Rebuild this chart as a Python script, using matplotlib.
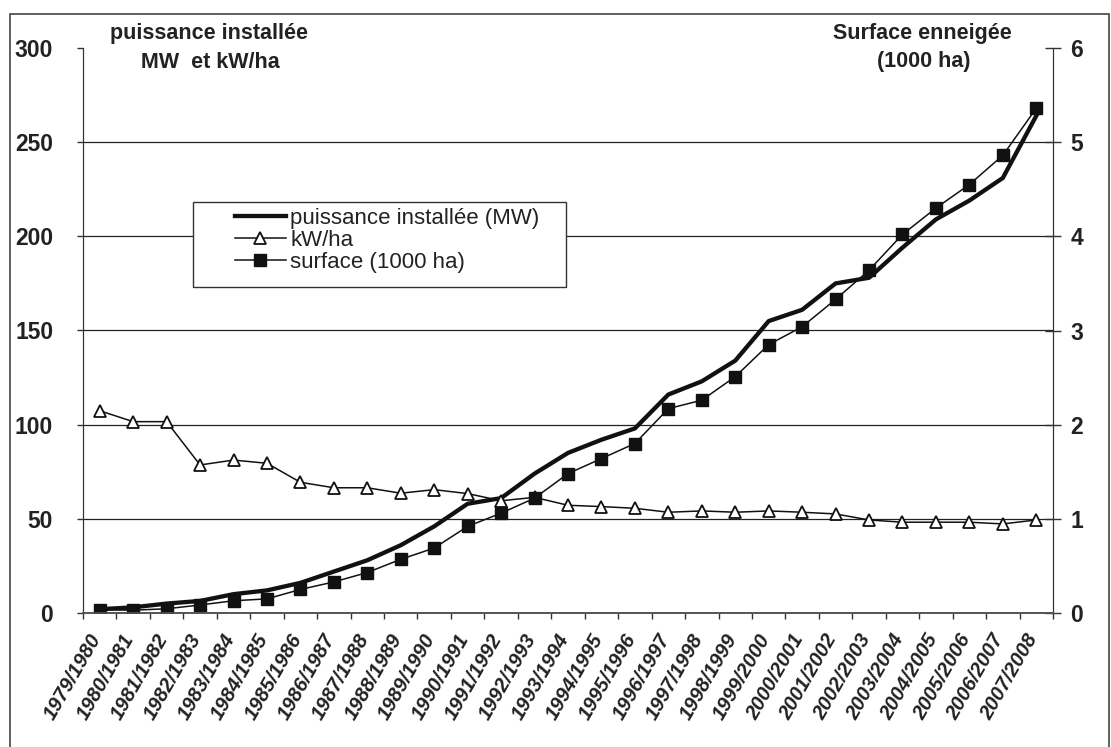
import numpy as np
import matplotlib
matplotlib.use("Agg")
import matplotlib.pyplot as plt
import matplotlib.transforms as mtransforms
from matplotlib.patches import Rectangle

plt.rcParams['font.family'] = ['Liberation Sans', 'DejaVu Sans']

years = ["1979/1980", "1980/1981", "1981/1982", "1982/1983", "1983/1984",
         "1984/1985", "1985/1986", "1986/1987", "1987/1988", "1988/1989",
         "1989/1990", "1990/1991", "1991/1992", "1992/1993", "1993/1994",
         "1994/1995", "1995/1996", "1996/1997", "1997/1998", "1998/1999",
         "1999/2000", "2000/2001", "2001/2002", "2002/2003", "2003/2004",
         "2004/2005", "2005/2006", "2006/2007", "2007/2008"]

# puissance installee (MW), left axis
puissance = [2, 3, 5, 6.4, 10, 12, 16, 22, 28, 36, 46, 58, 61, 74, 85, 92, 98,
             116, 123, 134, 155, 161, 175, 178, 194, 209, 219, 231, 264]
# kW/ha, left axis
kw_ha = [107.4, 101.6, 101.6, 78.6, 81.2, 79.5, 69.4, 66.5, 66.5, 63.6, 65.5,
         63.4, 59.6, 61.4, 57.2, 56.5, 55.6, 53.5, 54.2, 53.5, 54.2, 53.5, 52.6,
         49.4, 48.2, 48.2, 48.2, 47.3, 49.4]
# surface enneigee (1000 ha), right axis
surface = [0.035, 0.03, 0.045, 0.085, 0.13, 0.15, 0.25, 0.33, 0.43, 0.57, 0.69,
           0.92, 1.06, 1.22, 1.48, 1.64, 1.80, 2.17, 2.26, 2.51, 2.85, 3.04,
           3.33, 3.64, 4.02, 4.30, 4.55, 4.86, 5.36]

W, H = 1111, 747
fig = plt.figure(figsize=(W / 100, H / 100), dpi=100)
fig.patch.set_facecolor('white')

# outer frame (bottom edge falls off the picture)
fig.add_artist(Rectangle((10 / W, -3 / H), 1099 / W, 736 / H, transform=fig.transFigure,
                         fill=False, edgecolor='#444444', linewidth=1.2))

ax = fig.add_axes([83 / W, 134 / H, 970 / W, 565 / H])
ax2 = ax.twinx()

x = np.arange(len(years))
ax.set_xlim(-0.5, len(years) - 0.5)
ax.set_ylim(0, 300)
ax2.set_ylim(0, 6)

ax.set_yticks(range(0, 301, 50))
ax2.set_yticks(range(0, 7))
ax.grid(axis='y', color='#222222', linewidth=0.9)
ax.get_ygridlines()[-1].set_visible(False)
ax.set_axisbelow(True)

l1, = ax.plot(x, puissance, color='#111111', linewidth=3.1, label='puissance installée (MW)')
l2, = ax.plot(x, kw_ha, color='#111111', linewidth=1.1, marker='^', markersize=9,
              markerfacecolor='white', markeredgecolor='#111111', markeredgewidth=1.3,
              label='kW/ha')
l3, = ax2.plot(x, surface, color='#111111', linewidth=1.1, marker='s', markersize=8,
               markerfacecolor='#111111', markeredgecolor='#111111', label='surface (1000 ha)')

for a in (ax, ax2):
    a.spines['top'].set_visible(False)
    a.spines['left'].set_color('#333333')
    a.spines['right'].set_color('#333333')
    a.spines['bottom'].set_color('#555555')
    a.spines['bottom'].set_linewidth(1.2)

ax.tick_params(axis='y', direction='out', length=4.5, width=1, color='#333333',
               pad=17, labelsize=16.5)
ax2.tick_params(axis='y', direction='inout', length=11, width=1, color='#333333',
                pad=7, labelsize=16.5)
for t in ax.get_yticklabels() + ax2.get_yticklabels():
    t.set_fontweight('bold')
    t.set_color('#222222')

ax.set_xticks(x)
ax.set_xticks(np.arange(-0.5, len(years), 1), minor=True)
ax.tick_params(axis='x', which='major', length=0, pad=16)
ax.tick_params(axis='x', which='minor', direction='out', length=4.5, width=1, color='#333333')
ax.set_xticklabels(years, rotation=60, ha='right', va='center', rotation_mode='anchor',
                   fontsize=14.5, fontweight='bold', fontstyle='italic', color='#222222')
shift = mtransforms.ScaledTranslation(-3 / 100, 0, fig.dpi_scale_trans)
for t in ax.get_xticklabels():
    t.set_transform(t.get_transform() + shift)

fig.text(209 / W, 1 - 33 / H, 'puissance installée', ha='center', va='center',
         fontsize=15.5, fontweight='bold', color='#222222')
fig.text(210 / W, 1 - 62 / H, 'MW  et kW/ha', ha='center', va='center',
         fontsize=15.5, fontweight='bold', color='#222222')
fig.text(922 / W, 1 - 33 / H, 'Surface enneigée', ha='center', va='center',
         fontsize=15.5, fontweight='bold', color='#222222')
fig.text(924 / W, 1 - 62 / H, '(1000 ha)', ha='center', va='center',
         fontsize=15.5, fontweight='bold', color='#222222')

# legend box drawn separately (wide left margin as in the original)
ax2.add_patch(Rectangle((193 / W, 1 - 287 / H), 373 / W, 85 / H, transform=fig.transFigure,
                        facecolor='white', edgecolor='#333333', linewidth=1.0, zorder=4))
leg = ax2.legend(handles=[l1, l2, l3], loc='upper left',
                 bbox_to_anchor=(228 / W, 1 - 201 / H), bbox_transform=fig.transFigure,
                 borderaxespad=0, frameon=False,
                 fontsize=16, handlelength=2.3, handletextpad=0.2,
                 labelspacing=0.05, borderpad=0.3)
leg.set_zorder(5)
for t in leg.get_texts():
    t.set_color('#222222')

fig.savefig('out.png', dpi=100)
